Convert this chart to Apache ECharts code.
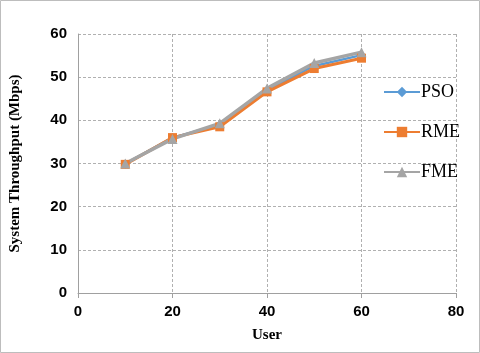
<!DOCTYPE html>
<html>
<head>
<meta charset="utf-8">
<script src="https://cdn.jsdelivr.net/npm/echarts@6/dist/echarts.min.js"></script>
<style>
  html, body { margin: 0; padding: 0; background: #fff; }
  #main { width: 480px; height: 353px; }
</style>
</head>
<body>
<div id="main"></div>
<script>
// data
var users = [10, 20, 30, 40, 50, 60];
var pso = [29.9, 36.0, 39.0, 47.0, 52.6, 55.1];
var rme = [29.8, 36.0, 38.5, 46.6, 52.0, 54.4];
var fme = [30.0, 35.7, 39.3, 47.4, 53.3, 55.8];

function pairs(xs, ys) {
    return xs.map(function (x, i) { return [x, ys[i]]; });
}

var myChart = echarts.init(document.getElementById('main'));

var tickFont = { fontFamily: 'Liberation Sans', fontWeight: 'bold', fontSize: 15, color: '#000' };
var nameFont = { fontFamily: 'Liberation Serif', fontWeight: 'bold', fontSize: 15, color: '#000' };
var dashed = { show: true, lineStyle: { color: '#b0b0b0', type: [3, 2], width: 1 } };

myChart.setOption({
    animation: false,
    graphic: [{
        type: 'rect',
        shape: { x: 0.5, y: 0.5, width: 479, height: 352 },
        style: { fill: 'none', stroke: '#bdbdbd', lineWidth: 1 }
    }],
    grid: { left: 77, right: 24, top: 34, bottom: 60 },
    legend: {
        orient: 'vertical',
        left: 378,
        top: 78,
        itemGap: 22,
        itemWidth: 36,
        itemHeight: 13,
        textStyle: { fontFamily: 'Liberation Serif', fontSize: 18, color: '#000', padding: [0, 0, 0, -4] },
        data: ['PSO', 'RME', 'FME']
    },
    xAxis: {
        type: 'value',
        min: 0, max: 80, interval: 20,
        name: 'User',
        nameLocation: 'middle',
        nameGap: 35,
        nameTextStyle: nameFont,
        axisLine: { show: true, lineStyle: { color: '#a0a0a0' } },
        axisTick: { show: true, length: 5, lineStyle: { color: '#a0a0a0' } },
        axisLabel: Object.assign({ margin: 11 }, tickFont),
        splitLine: dashed
    },
    yAxis: {
        type: 'value',
        min: 0, max: 60, interval: 10,
        name: 'System Throughput (Mbps)',
        nameLocation: 'middle',
        nameGap: 55,
        nameTextStyle: nameFont,
        axisLine: { show: true, lineStyle: { color: '#a0a0a0' } },
        axisTick: { show: false },
        axisLabel: Object.assign({ margin: 11 }, tickFont),
        splitLine: dashed
    },
    series: [
        {
            name: 'PSO', type: 'line', data: pairs(users, pso),
            symbol: 'diamond', symbolSize: 9,
            itemStyle: { color: '#5B9BD5' },
            lineStyle: { width: 2.5, color: '#5B9BD5' }
        },
        {
            name: 'RME', type: 'line', data: pairs(users, rme),
            symbol: 'rect', symbolSize: 9,
            itemStyle: { color: '#ED7D31' },
            lineStyle: { width: 3, color: '#ED7D31' }
        },
        {
            name: 'FME', type: 'line', data: pairs(users, fme),
            symbol: 'triangle', symbolSize: 10,
            itemStyle: { color: '#A5A5A5' },
            lineStyle: { width: 3.5, color: '#A5A5A5' }
        }
    ]
});
</script>
</body>
</html>
